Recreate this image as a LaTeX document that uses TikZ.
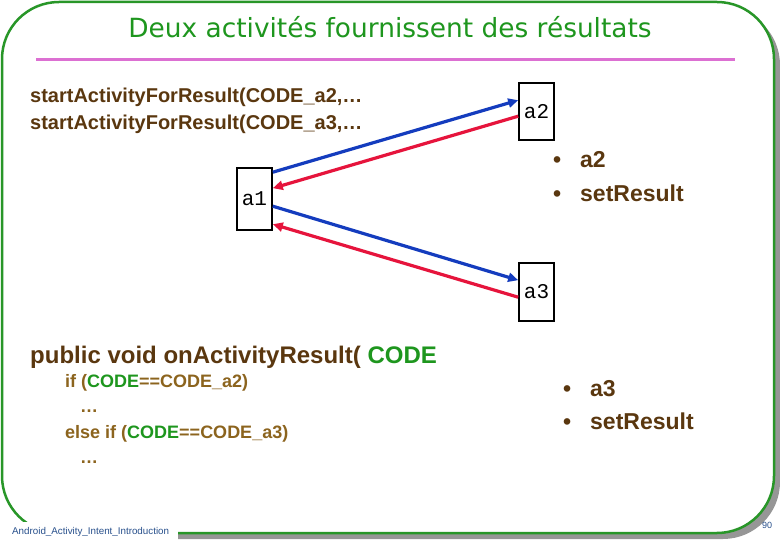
\documentclass[tikz,border=0pt]{standalone}
\usepackage{fontspec}
\setmainfont{Liberation Sans}
\newfontfamily\monof{Liberation Mono}
\newfontfamily\titlef{DejaVu Sans}
\usetikzlibrary{calc,arrows.meta}
\definecolor{framegreen}{RGB}{40,150,40}
\definecolor{titlegreen}{RGB}{30,150,30}
\definecolor{shadowgray}{RGB}{150,150,150}
\definecolor{pinkline}{RGB}{220,112,210}
\definecolor{brownc}{RGB}{90,55,15}
\definecolor{olivec}{RGB}{140,100,30}
\definecolor{codegreen}{RGB}{30,150,30}
\definecolor{arrblue}{RGB}{20,60,190}
\definecolor{arrred}{RGB}{230,20,60}
\definecolor{footblue}{RGB}{40,80,140}
\begin{document}
\begin{tikzpicture}[x=1pt,y=-1pt,
  actbox/.style={draw=black, line width=1.6pt, fill=white, inner sep=0pt, minimum width=35pt, font=\monof\fontsize{21}{24}\selectfont},
  txt/.style={anchor=base west, inner sep=0pt},
  bigtxt/.style={txt, font=\bfseries\fontsize{20}{24}\selectfont, text=brownc},
  bultxt/.style={txt, font=\bfseries\fontsize{23}{26}\selectfont, text=brownc},
  codetxt/.style={txt, font=\bfseries\fontsize{18}{22}\selectfont, text=olivec},
  callarrow/.style={arrblue, line width=3.2pt, -{Triangle[length=10pt,width=9pt]}},
  retarrow/.style={arrred, line width=3.2pt, -{Triangle[length=10pt,width=9pt]}}]
\useasboundingbox (0,0) rectangle (780,540);
% frame with shadow
\fill[shadowgray, rounded corners=57pt] (8,8) rectangle (780,539);
\draw[framegreen, line width=2.5pt, fill=white, rounded corners=57pt] (2,2) rectangle (774,533);
\fill[white] (0,522) rectangle (178,540);
% title
\node[anchor=base, inner sep=0pt, font=\titlef\fontsize{26.4}{30}\selectfont, text=titlegreen] (title) at (390,38) {Deux activités fournissent des résultats};
\coordinate (rl) at (36,60);
\coordinate (rr) at (735,60);
\draw[pinkline, line width=3pt] (rl) -- (rr);
% left texts
\node[bigtxt] (s1) at (30,103) {startActivityForResult(CODE\_a2,…};
\node[bigtxt] (s2) at (30,130) {startActivityForResult(CODE\_a3,…};
% boxes
\node[actbox, minimum height=57pt] (a2) at (536.5,111.5) {a2};
\node[actbox, minimum height=62pt] (a1) at (254.5,199) {a1};
\node[actbox, minimum height=58pt] (a3) at (536.5,292) {a3};
% arrows
\draw[callarrow] ($(a1.north east)+(0,5)$) -- ($(a2.north west)+(0,18)$);
\draw[retarrow] ($(a2.north west)+(0,34)$) -- ($(a1.north east)+(0,21)$);
\draw[callarrow] ($(a1.north east)+(0,39)$) -- ($(a3.north west)+(0,18)$);
\draw[retarrow] ($(a3.north west)+(0,35)$) -- ($(a1.north east)+(0,57)$);
% bullet lists
\node[bultxt] (d1) at (553,168) {•};
\node[bultxt] (l1) at (580,168) {a2};
\node[bultxt] (d2) at (553,202) {•};
\node[bultxt] (l2) at (580,202) {setResult};
\node[bultxt] (d3) at (563,396) {•};
\node[bultxt] (l3) at (590,396) {a3};
\node[bultxt] (d4) at (563,429) {•};
\node[bultxt] (l4) at (590,429) {setResult};
% onActivityResult
\node[txt, font=\bfseries\fontsize{24}{28}\selectfont, text=brownc] (oar) at (30,363) {public void onActivityResult( \textcolor{codegreen}{CODE}};
\node[codetxt] (c1) at (65,388) {if (\textcolor{codegreen}{CODE}==CODE\_a2)};
\node[codetxt] (c2) at (80,413) {…};
\node[codetxt] (c3) at (65,438) {else if (\textcolor{codegreen}{CODE}==CODE\_a3)};
\node[codetxt] (c4) at (80,463) {…};
% footer
\node[txt, font=\fontsize{9.8}{11}\selectfont, text=footblue] (foot) at (12,534) {Android\_Activity\_Intent\_Introduction};
\node[txt, font=\fontsize{9}{11}\selectfont, text=footblue] (pnum) at (762,528) {90};
\end{tikzpicture}
\end{document}
